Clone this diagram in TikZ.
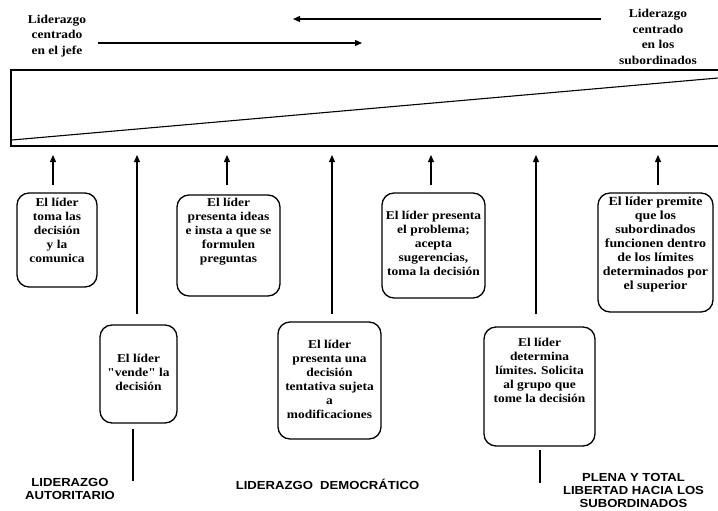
\documentclass[tikz,border=0pt]{standalone}
\usepackage{fontspec}
\setmainfont{Liberation Serif}[FakeStretch=1.12,Ligatures=TeXOff]
\setsansfont{Liberation Sans}[FakeStretch=1.12]
\usetikzlibrary{arrows.meta}
\tikzset{
  bar/.style={line width=1.4pt},
  arr/.style={line width=1.2pt,-{Triangle[length=7pt,width=6pt]}},
  stem/.style={line width=1.2pt},
  box/.style={draw,line width=1.3pt,rounded corners=12pt,inner sep=0pt},
  txt/.style={align=center,inner sep=0pt,font=\bfseries\fontsize{12}{14}\selectfont},
  head/.style={align=center,inner sep=0pt,font=\bfseries\fontsize{12}{15.5}\selectfont},
  foot/.style={align=center,inner sep=0pt,font=\sffamily\bfseries\fontsize{11.7}{13}\selectfont},
}
\begin{document}
\begin{tikzpicture}[x=1pt,y=-1pt]
\useasboundingbox (0,0) rectangle (718,511);

% headings and direction arrows
\node[head] (hl) at (57,36) {Liderazgo\\centrado\\en el jefe};
\node[head] (hr) at (658,37) {Liderazgo\\centrado\\en los\\subordinados};
\coordinate (al1) at (601,19);
\coordinate (al2) at (293,19);
\coordinate (ar1) at (98,43);
\coordinate (ar2) at (362,43);
\draw[arr] (al1) -- (al2);
\draw[arr] (ar1) -- (ar2);

% open frame with the diagonal
\coordinate (ftr) at (718,70);
\coordinate (ftl) at (11,70);
\coordinate (fbl) at (11,146);
\coordinate (fbr) at (718,146);
\draw[bar] (ftr) -- (ftl) -- (fbl) -- (fbr);
\coordinate (d1) at (12,140);
\coordinate (d2) at (718,78);
\draw[line width=1.1pt] (d1) -- (d2);

% upper row of boxes
\node[box,minimum width=80,minimum height=94] (b1) at (57,240) {};
\node[txt] (t1) at (57,230.5) {El líder\\toma las\\decisión\\y la\\comunica};
\node[box,minimum width=103,minimum height=101] (b3) at (228.5,245.5) {};
\node[txt] (t3) at (228.5,232) {El líder\\presenta ideas\\e insta a que se\\formulen\\preguntas};
\node[box,minimum width=103,minimum height=105] (b5) at (433.5,245.5) {};
\node[txt] (t5) at (433.5,243) {El líder presenta\\el problema;\\acepta\\sugerencias,\\toma la decisión};
\node[box,minimum width=115,minimum height=119] (b7) at (655.5,252.5) {};
\node[txt,font=\bfseries\fontsize{12.4}{14}\selectfont] (t7) at (655.5,245) {El líder premite\\que los\\subordinados\\funcionen dentro\\de los límites\\determinados por\\el superior};

% lower row of boxes
\node[box,minimum width=77,minimum height=98] (b2) at (138.5,374) {};
\node[txt] (t2) at (138.5,372) {El líder\\"vende" la\\decisión};
\node[box,minimum width=103,minimum height=117] (b4) at (329.5,380.5) {};
\node[txt] (t4) at (329.5,379) {El líder\\presenta una\\decisión\\tentativa sujeta\\a\\modificaciones};
\node[box,minimum width=111,minimum height=119] (b6) at (539.5,386.5) {};
\node[txt] (t6) at (539.5,370.5) {El líder\\determina\\límites. Solicita\\al grupo que\\tome la decisión};

% arrows up to the frame
\coordinate (p1) at (53,155);
\coordinate (p2) at (137,155);
\coordinate (p3) at (227,155);
\coordinate (p4) at (332,155);
\coordinate (p5) at (431,155);
\coordinate (p6) at (536,155);
\coordinate (p7) at (658,155);
\draw[arr] (b1.north -| p1) ++(0,-7) -- (p1);
\draw[arr] (b2.north -| p2) ++(0,-10) -- (p2);
\draw[arr] (b3.north -| p3) ++(0,-9) -- (p3);
\draw[arr] (b4.north -| p4) ++(0,-7) -- (p4);
\draw[arr] (b5.north -| p5) ++(0,-7) -- (p5);
\draw[arr] (b6.north -| p6) ++(0,-12) -- (p6);
\draw[arr] (b7.north -| p7) ++(0,-7) -- (p7);

% stems below the lower boxes
\coordinate (s2) at (133,481);
\coordinate (s6) at (540,483);
\draw[stem] (b2.south -| s2) ++(0,5) -- (s2);
\draw[stem] (b6.south -| s6) ++(0,3) -- (s6);

% leadership styles
\node[foot] (f1) at (70,488.5) {LIDERAZGO\\AUTORITARIO};
\node[foot] (f2) at (327.5,484) {LIDERAZGO\ \ DEMOCRÁTICO};
\node[foot] (f3) at (633.5,490) {PLENA Y TOTAL\\LIBERTAD HACIA LOS\\SUBORDINADOS};
\end{tikzpicture}
\end{document}
